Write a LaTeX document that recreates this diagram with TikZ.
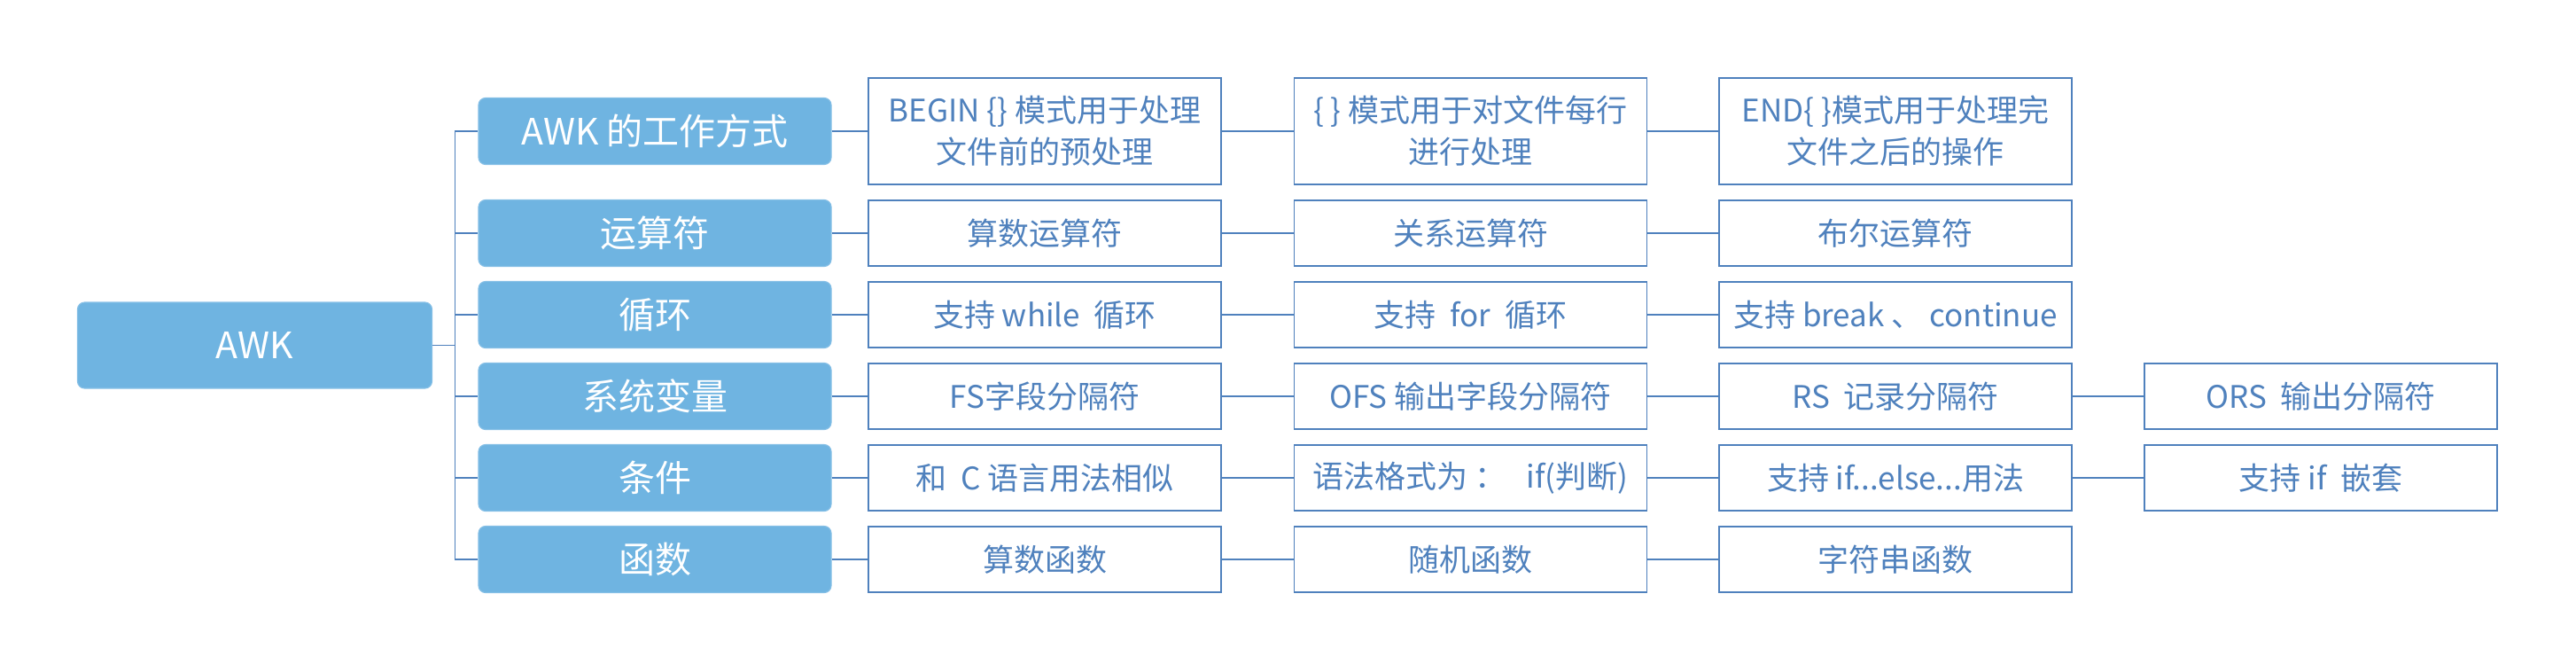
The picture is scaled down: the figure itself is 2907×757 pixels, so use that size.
\documentclass[tikz,border=0pt]{standalone}
\usepackage{fontspec}
\setmainfont{Noto Sans CJK SC}
\definecolor{fillblue}{RGB}{111,180,225}
\definecolor{lineblue}{RGB}{79,129,189}
\begin{document}
\begin{tikzpicture}[x=0.5pt,y=-0.5pt,
  rootbox/.style={draw=fillblue!85!white, line width=0.6pt, fill=fillblue, rounded corners=4pt, text=white,
    font=\fontsize{20.5}{24}\selectfont, minimum width=200pt, minimum height=48.5pt, inner sep=0pt},
  catbox/.style={draw=fillblue!85!white, line width=0.6pt, fill=fillblue, rounded corners=4pt, text=white,
    font=\fontsize{20.5}{24}\selectfont, minimum width=199pt, minimum height=37.5pt, inner sep=0pt},
  leafbox/.style={draw=lineblue, line width=0.9pt, fill=white, text=lineblue,
    font=\fontsize{17.5}{23.5}\selectfont, align=center, minimum width=199pt, minimum height=37pt, inner sep=0pt},
  tallleaf/.style={leafbox, minimum height=60pt},
  conn/.style={draw=lineblue, line width=0.9pt}]
\useasboundingbox (0,0) rectangle (2907,757);

% root
\node[rootbox] (root) at (287.5,389.5) {AWK};
\coordinate (trunk) at (513.5,389.5);

% categories
\node[catbox] (c1) at (739,148) {AWK 的工作方式};
\node[catbox] (c2) at (739,263) {运算符};
\node[catbox] (c3) at (739,355) {循环};
\node[catbox] (c4) at (739,447) {系统变量};
\node[catbox] (c5) at (739,539) {条件};
\node[catbox] (c6) at (739,631) {函数};

% row 1
\node[tallleaf] (l11) at (1179,148) {BEGIN \{\} 模式用于处理\\文件前的预处理};
\node[tallleaf] (l12) at (1659.5,148) {\{ \} 模式用于对文件每行\\进行处理};
\node[tallleaf] (l13) at (2139,148) {END\{ \}模式用于处理完\\文件之后的操作};
% row 2
\node[leafbox] (l21) at (1179,263) {算数运算符};
\node[leafbox] (l22) at (1659.5,263) {关系运算符};
\node[leafbox] (l23) at (2139,263) {布尔运算符};
% row 3
\node[leafbox] (l31) at (1179,355) {支持 while\ \ 循环};
\node[leafbox] (l32) at (1659.5,355) {支持\ \ for\ \ 循环};
\node[leafbox] (l33) at (2139,355) {支持 break 、 continue};
% row 4
\node[leafbox] (l41) at (1179,447) {FS字段分隔符};
\node[leafbox] (l42) at (1659.5,447) {OFS 输出字段分隔符};
\node[leafbox] (l43) at (2139,447) {RS\ \ 记录分隔符};
\node[leafbox] (l44) at (2619,447) {ORS\ \ 输出分隔符};
% row 5
\node[leafbox] (l51) at (1179,539) {和\ \ C 语言用法相似};
\node[leafbox] (l52) at (1659.5,539) {语法格式为 ：\ \ \ if(判断)};
\node[leafbox] (l53) at (2139,539) {支持 if...else...用法};
\node[leafbox] (l54) at (2619,539) {支持 if\ \ 嵌套};
% row 6
\node[leafbox] (l61) at (1179,631) {算数函数};
\node[leafbox] (l62) at (1659.5,631) {随机函数};
\node[leafbox] (l63) at (2139,631) {字符串函数};

% connectors
\draw[conn] (root.east) -- (trunk);
\foreach \c in {c1,c2,c3,c4,c5,c6}{
  \draw[conn] (trunk) |- (\c.west);
}
\draw[conn] (c1.east) -- (l11.west) (l11.east) -- (l12.west) (l12.east) -- (l13.west);
\draw[conn] (c2.east) -- (l21.west) (l21.east) -- (l22.west) (l22.east) -- (l23.west);
\draw[conn] (c3.east) -- (l31.west) (l31.east) -- (l32.west) (l32.east) -- (l33.west);
\draw[conn] (c4.east) -- (l41.west) (l41.east) -- (l42.west) (l42.east) -- (l43.west) (l43.east) -- (l44.west);
\draw[conn] (c5.east) -- (l51.west) (l51.east) -- (l52.west) (l52.east) -- (l53.west) (l53.east) -- (l54.west);
\draw[conn] (c6.east) -- (l61.west) (l61.east) -- (l62.west) (l62.east) -- (l63.west);
\end{tikzpicture}
\end{document}
